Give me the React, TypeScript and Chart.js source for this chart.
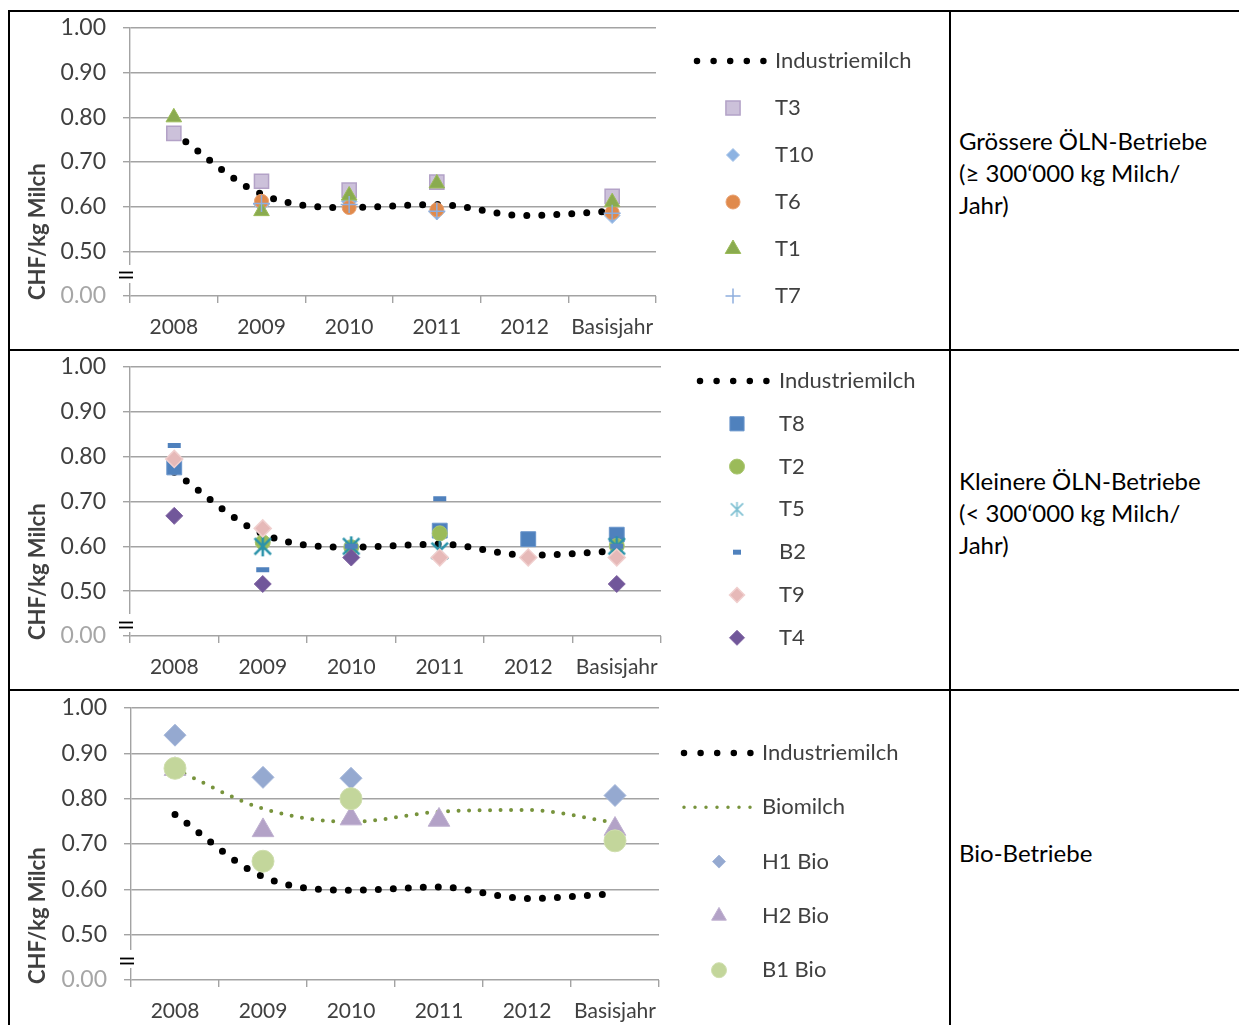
import React, { useEffect, useRef } from 'react';
import { Chart, registerables } from 'chart.js';

Chart.register(...registerables);
Chart.defaults.font.family = 'Lato';

// ---------- data ----------
const categories = ['2008', '2009', '2010', '2011', '2012', 'Basisjahr'];
const industriemilch = [0.765, 0.628, 0.598, 0.605, 0.58, 0.59];

// Panel 1: Grössere ÖLN-Betriebe
const t3 = [0.764, 0.657, 0.637, 0.655, null, 0.623];
const t10 = [null, 0.605, 0.612, 0.588, null, 0.58];
const t6 = [null, 0.612, 0.598, 0.593, null, 0.587];
const t1 = [0.8, 0.59, 0.625, 0.652, null, 0.61];
const t7 = [null, 0.607, 0.605, 0.59, null, 0.585];

// Panel 2: Kleinere ÖLN-Betriebe
const t8 = [0.776, null, null, 0.635, 0.616, 0.626];
const t2 = [null, 0.609, 0.598, 0.629, null, 0.601];
const t5 = [null, 0.6, 0.6, 0.59, null, 0.6];
const b2 = [0.825, 0.548, 0.6, 0.706, null, 0.6];
const t9 = [0.795, 0.64, null, 0.575, 0.575, 0.575];
const t4 = [0.668, 0.516, 0.575, null, null, 0.516];

// Panel 3: Bio-Betriebe
const biomilch = [0.865, 0.778, 0.749, 0.771, 0.775, 0.747];
const h1Bio = [0.94, 0.847, 0.845, null, null, 0.807];
const h2Bio = [0.865, 0.73, 0.756, 0.753, null, 0.733];
const b1Bio = [0.867, 0.662, 0.8, null, null, 0.707];

const yMin = 0.4; // displayed as 0.00 (broken axis)
const yMax = 1.0;
const yStep = 0.1;
const yTitle = 'CHF/kg Milch';

// ---------- styling ----------
const GRID = '#a3a3a3';
const TEXT = '#404040';
const X_AXIS_H = 45;

function asteriskImage(size: number, color: string, lw: number) {
  const cv = document.createElement('canvas');
  cv.width = size;
  cv.height = size;
  const g = cv.getContext('2d') as CanvasRenderingContext2D;
  const c = size / 2;
  const r = size / 2 - 1;
  g.strokeStyle = color;
  g.lineWidth = lw;
  g.lineCap = 'butt';
  g.beginPath();
  g.moveTo(c, c - r); g.lineTo(c, c + r);
  const d = r * 0.82;
  g.moveTo(c - d, c - d); g.lineTo(c + d, c + d);
  g.moveTo(c - d, c + d); g.lineTo(c + d, c - d);
  g.stroke();
  return cv;
}

function industrieDs() {
  return {
    label: 'Industriemilch',
    data: industriemilch,
    borderColor: '#000000',
    borderWidth: 7,
    borderDash: [0, 15],
    borderCapStyle: 'round',
    cubicInterpolationMode: 'monotone',
    pointRadius: 0,
    legendDash: [0, 16.6],
    legendWidth: 6.5,
    order: 0,
  };
}

function markerDs(label: string, data: (number | null)[], style: any, radius: number, fill: string, stroke: string, bw: number, legendRadius: number, order: number, legendStyle?: any) {
  return {
    label,
    data,
    showLine: false,
    pointStyle: style,
    pointRadius: radius,
    pointHoverRadius: radius,
    pointBackgroundColor: fill,
    pointBorderColor: stroke,
    pointBorderWidth: bw,
    backgroundColor: fill,
    borderColor: stroke,
    legendRadius,
    legendStyle: legendStyle || style,
    order,
  };
}

function drawMarker(ctx: CanvasRenderingContext2D, style: any, x: number, y: number, r: number, fill: string, stroke: string, bw: number) {
  ctx.save();
  if (typeof style !== 'string') {
    ctx.drawImage(style, x - style.width / 2, y - style.height / 2);
    ctx.restore();
    return;
  }
  ctx.beginPath();
  let fillIt = true;
  switch (style) {
    case 'circle':
      ctx.arc(x, y, r, 0, Math.PI * 2);
      break;
    case 'rect': {
      const s = Math.SQRT1_2 * r;
      ctx.rect(x - s, y - s, 2 * s, 2 * s);
      break;
    }
    case 'rectRot':
      ctx.moveTo(x, y - r);
      ctx.lineTo(x + r, y);
      ctx.lineTo(x, y + r);
      ctx.lineTo(x - r, y);
      ctx.closePath();
      break;
    case 'triangle':
      ctx.moveTo(x, y - r);
      ctx.lineTo(x + 0.866 * r, y + 0.5 * r);
      ctx.lineTo(x - 0.866 * r, y + 0.5 * r);
      ctx.closePath();
      break;
    case 'cross':
      fillIt = false;
      ctx.moveTo(x, y - r); ctx.lineTo(x, y + r);
      ctx.moveTo(x - r, y); ctx.lineTo(x + r, y);
      break;
    case 'line':
      fillIt = false;
      ctx.moveTo(x - r, y); ctx.lineTo(x + r, y);
      break;
  }
  if (fillIt) { ctx.fillStyle = fill; ctx.fill(); }
  if (bw > 0) { ctx.strokeStyle = stroke; ctx.lineWidth = bw; ctx.stroke(); }
  ctx.restore();
}

const decoPlugin = {
  id: 'deco',
  afterDraw(chart: any, _args: any, opts: any) {
    const ctx: CanvasRenderingContext2D = chart.ctx;
    const { left, bottom } = chart.chartArea;
    ctx.save();
    // axis break
    ctx.fillStyle = '#ffffff';
    ctx.fillRect(left - 2.5, bottom + opts.breakGap[0], 5, opts.breakGap[1] - opts.breakGap[0]);
    ctx.strokeStyle = '#000000';
    ctx.lineWidth = 1.8;
    for (const dy of opts.breakLines) {
      ctx.beginPath();
      ctx.moveTo(left - 11, bottom + dy);
      ctx.lineTo(left + 3, bottom + dy);
      ctx.stroke();
    }
    ctx.restore();

    // y title
    ctx.save();
    ctx.translate(opts.titleX, bottom + opts.titleDy);
    ctx.rotate(-Math.PI / 2);
    ctx.font = 'bold 22px Lato';
    ctx.fillStyle = TEXT;
    ctx.textAlign = 'left';
    ctx.textBaseline = 'alphabetic';
    ctx.fillText(yTitle, 0, 0);
    ctx.restore();

    // legend
    const lg = opts.legend;
    chart.data.datasets.forEach((ds: any, i: number) => {
      const y = lg.y0 + i * lg.dy;
      if (ds.showLine !== false) {
        ctx.save();
        ctx.strokeStyle = ds.borderColor;
        ctx.lineWidth = ds.legendWidth;
        ctx.lineCap = 'round';
        ctx.setLineDash(ds.legendDash);
        ctx.beginPath();
        ctx.moveTo(lg.lineX1, y);
        ctx.lineTo(lg.lineX2 + 1, y);
        ctx.stroke();
        ctx.restore();
      } else {
        drawMarker(ctx, ds.legendStyle, lg.markerX, y, ds.legendRadius, ds.pointBackgroundColor, ds.pointBorderColor, ds.pointBorderWidth);
      }
      ctx.save();
      ctx.font = '22px Lato';
      ctx.fillStyle = TEXT;
      ctx.textAlign = 'left';
      ctx.textBaseline = 'middle';
      ctx.fillText(ds.label, lg.textX, y);
      ctx.restore();
    });
  },
};

type PanelCfg = {
  top: number;
  width: number;
  height: number;
  area: { left: number; right: number; top: number; bottom: number };
  datasets: any[];
  legend: { lineX1: number; lineX2: number; markerX: number; textX: number; y0: number; dy: number };
  breakGap: [number, number];
  breakLines: number[];
};

function zeroPad(s: any) {
  s.paddingTop = 0;
  s.paddingBottom = 0;
  s.paddingLeft = 0;
  s.paddingRight = 0;
}

function Panel({ cfg }: { cfg: PanelCfg }) {
  const ref = useRef<HTMLCanvasElement>(null);
  useEffect(() => {
    const c = cfg;
    const padding = {
      left: 0,
      top: c.area.top,
      right: c.width - c.area.right,
      bottom: c.height - c.area.bottom - X_AXIS_H,
    };
    const chart: any = new Chart(ref.current as HTMLCanvasElement, {
      type: 'line',
      data: { labels: categories, datasets: c.datasets },
      options: {
        responsive: false,
        maintainAspectRatio: false,
        animation: false,
        events: [],
        layout: { padding },
        plugins: {
          legend: { display: false },
          tooltip: { enabled: false },
          deco: {
            legend: c.legend,
            breakGap: c.breakGap,
            breakLines: c.breakLines,
            titleX: 35,
            titleDy: 4,
          },
        } as any,
        scales: {
          x: {
            type: 'category',
            offset: true,
            grid: { offset: true, drawOnChartArea: false, drawTicks: true, tickLength: 7, color: GRID, lineWidth: 1.4 },
            border: { display: false },
            ticks: { font: { size: 21 }, color: TEXT, padding: 12, maxRotation: 0, autoSkip: false },
            afterFit: (s: any) => { s.height = X_AXIS_H; zeroPad(s); },
          },
          y: {
            type: 'linear',
            min: yMin,
            max: yMax,
            ticks: {
              stepSize: yStep,
              padding: 17,
              font: { size: 23 },
              color: (ctx: any) => (ctx.tick && ctx.tick.value < yMin + 0.05 ? '#a6a6a6' : TEXT),
              callback: (v: any) => (Math.abs(Number(v) - yMin) < 1e-6 ? '0.00' : Number(v).toFixed(2)),
            },
            grid: { color: GRID, lineWidth: 1.4, tickLength: 7 },
            border: { display: true, color: GRID, width: 1.4 },
            afterFit: (s: any) => { s.width = c.area.left; zeroPad(s); },
          },
        } as any,
      },
      plugins: [decoPlugin as any],
    } as any);
    // correct for any remaining offset of the plot area, then redraw
    const ca = chart.chartArea;
    if (ca && (Math.abs(ca.top - c.area.top) > 0.5 || Math.abs(ca.bottom - c.area.bottom) > 0.5 || Math.abs(ca.left - c.area.left) > 0.5 || Math.abs(ca.right - c.area.right) > 0.5)) {
      chart.config.options.layout.padding = {
        top: padding.top - (ca.top - c.area.top),
        bottom: padding.bottom + (ca.bottom - c.area.bottom),
        right: padding.right + (ca.right - c.area.right),
        left: padding.left - (ca.left - c.area.left),
      };
      chart.update();
    }
    return () => chart.destroy();
  }, []);
  return (
    <canvas
      ref={ref}
      width={cfg.width}
      height={cfg.height}
      style={{ position: 'absolute', left: 10, top: cfg.top, width: cfg.width, height: cfg.height }}
    />
  );
}

const t5Img = asteriskImage(22, '#2b93aa', 2.6);
const t5LegendImg = asteriskImage(17, '#7fc0d2', 1.6);

const panel1: PanelCfg = {
  top: 12,
  width: 938,
  height: 337,
  area: { left: 120, right: 646, top: 16, bottom: 284 },
  datasets: [
    industrieDs(),
    markerDs('T3', t3, 'rect', 10, '#ccc1da', '#b3a2c7', 1.5, 10, -1),
    markerDs('T10', t10, 'rectRot', 8, '#8db3e2', '#a6c3e8', 1, 6.5, -2),
    markerDs('T6', t6, 'circle', 7, '#e08a4c', '#e8a070', 1, 7, -3),
    markerDs('T1', t1, 'triangle', 9, '#8aab4f', '#9bbb59', 1, 9, -4),
    markerDs('T7', t7, 'cross', 8.5, '#95b3d7', '#8eaede', 1.5, 7.5, -5),
  ],
  legend: { lineX1: 687, lineX2: 755, markerX: 723, textX: 765, y0: 49, dy: 47 },
  breakGap: [-31, -13],
  breakLines: [-23.5, -18.5],
};

const panel2: PanelCfg = {
  top: 351,
  width: 938,
  height: 338,
  area: { left: 120, right: 651, top: 16, bottom: 285 },
  datasets: [
    industrieDs(),
    markerDs('T8', t8, 'rect', 10.5, '#4f81bd', '#6a95cb', 1, 10, -1),
    markerDs('T2', t2, 'circle', 7.5, '#9bbb59', '#a9c670', 1, 7.5, -2),
    markerDs('T5', t5, t5Img, 11, '#2b93aa', '#2b93aa', 2, 8, -3, t5LegendImg),
    markerDs('B2', b2, 'line', 6.5, '#4f81bd', '#4f81bd', 5, 4, -4),
    markerDs('T9', t9, 'rectRot', 8.5, '#e6b9b8', '#f0cfce', 1.5, 7.5, -5),
    markerDs('T4', t4, 'rectRot', 8.5, '#71579a', '#8064a2', 1, 7.5, -6),
  ],
  legend: { lineX1: 690, lineX2: 757, markerX: 727, textX: 769, y0: 30, dy: 42.8 },
  breakGap: [-22, -4],
  breakLines: [-13.5, -8.5],
};

const panel3: PanelCfg = {
  top: 691,
  width: 938,
  height: 334,
  area: { left: 121, right: 649, top: 17, bottom: 289 },
  datasets: [
    industrieDs(),
    {
      label: 'Biomilch',
      data: biomilch,
      borderColor: '#77933c',
      borderWidth: 4,
      borderDash: [0, 10.5],
      borderCapStyle: 'round',
      cubicInterpolationMode: 'monotone',
      pointRadius: 0,
      legendDash: [0, 11],
      legendWidth: 3.5,
      order: -1,
    },
    markerDs('H1 Bio', h1Bio, 'rectRot', 11, '#95a9d0', '#a5b7da', 1, 6.5, -2),
    markerDs('H2 Bio', h2Bio, 'triangle', 12.5, '#b3a2c7', '#bfb0d0', 1, 8.5, -3),
    markerDs('B1 Bio', b1Bio, 'circle', 11, '#c3d69b', '#cfdeae', 1, 7.5, -4),
  ],
  legend: { lineX1: 674, lineX2: 740, markerX: 709, textX: 752, y0: 62, dy: 54.3 },
  breakGap: [-30, -12],
  breakLines: [-21.5, -16.5],
};

const rightTexts = [
  { top: 125, lines: ['Grössere ÖLN-Betriebe', '(≥ 300‘000 kg Milch/', 'Jahr)'] },
  { top: 465, lines: ['Kleinere ÖLN-Betriebe', '(< 300‘000 kg Milch/', 'Jahr)'] },
  { top: 837, lines: ['Bio-Betriebe'] },
];

const line = (s: React.CSSProperties) => <div style={{ position: 'absolute', background: '#000', ...s }} />;

export default function App() {
  return (
    <div style={{ position: 'absolute', left: 0, top: 0, width: 1239, height: 1025, overflow: 'hidden', background: '#fff' }}>
      <Panel cfg={panel1} />
      <Panel cfg={panel2} />
      <Panel cfg={panel3} />
      {rightTexts.map((t, i) => (
        <div
          key={i}
          style={{ position: 'absolute', left: 959, top: t.top, fontFamily: 'Lato', fontSize: 24, lineHeight: '32px', color: '#000', whiteSpace: 'nowrap' }}
        >
          {t.lines.map((l, j) => (
            <div key={j}>{l}</div>
          ))}
        </div>
      ))}
      {line({ left: 8, top: 10, width: 1231, height: 2 })}
      {line({ left: 8, top: 10, width: 2, height: 1015 })}
      {line({ left: 949, top: 10, width: 2, height: 1015 })}
      {line({ left: 8, top: 349, width: 1231, height: 2 })}
      {line({ left: 8, top: 689, width: 1231, height: 2 })}
    </div>
  );
}
